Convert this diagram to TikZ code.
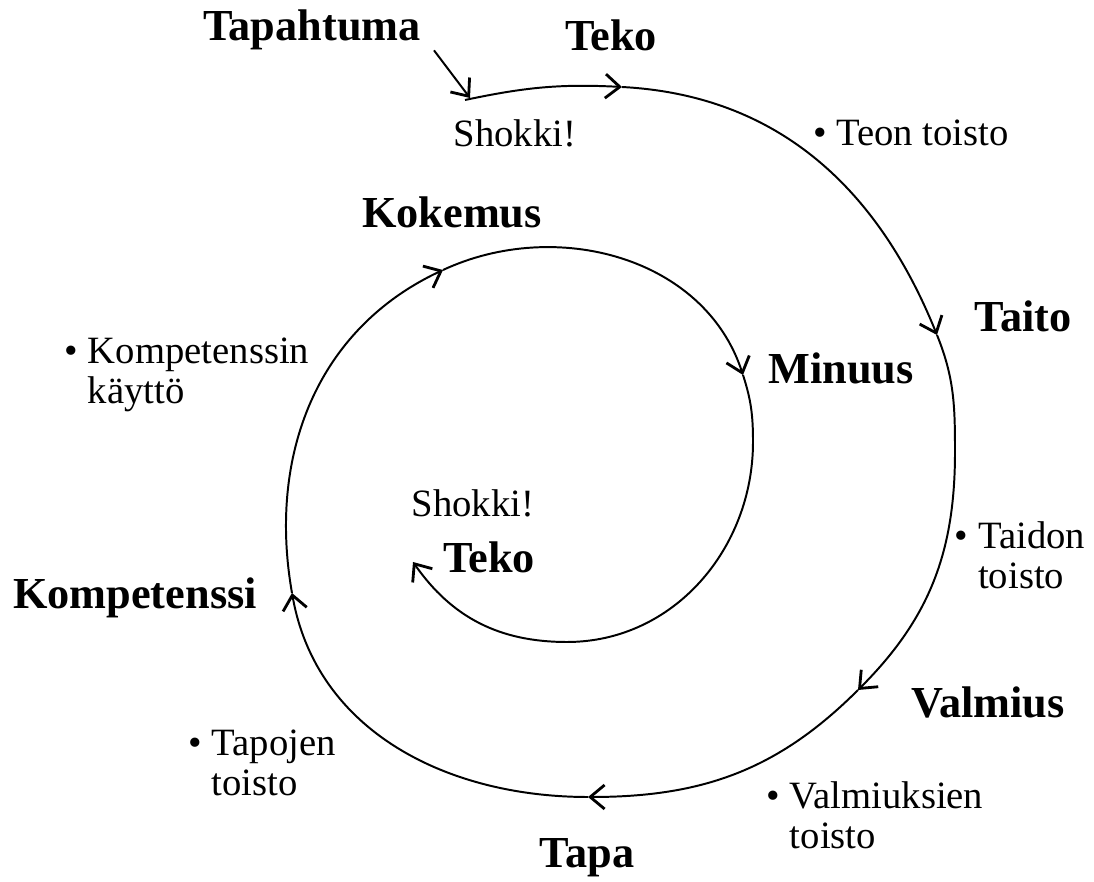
\documentclass[tikz,border=0pt]{standalone}
\usepackage{fontspec}
\setmainfont{Liberation Serif}
\usetikzlibrary{arrows.meta}
\begin{document}
\begin{tikzpicture}[
        x=0.025cm, y=0.025cm,
        spiral/.style={line width=1.4pt},
        barb/.style={-{Straight Barb[length=3.6mm,width=6mm,line width=2pt]}},
        lab/.style={font=\fontsize{31.5}{34}\selectfont\bfseries, inner sep=0pt},
        note/.style={font=\fontsize{27.5}{28.5}\selectfont, inner sep=0pt, align=left}
    ]
    \useasboundingbox (0,0) rectangle (1094,882);

    % points on the spiral
    \coordinate (s0) at (465,782);
    \coordinate (a1) at (622,795);
    \coordinate (a2) at (937,547);
    \coordinate (r1) at (955,430);
    \coordinate (a3) at (858,192);
    \coordinate (a4) at (588,85);
    \coordinate (a5) at (292,289);
    \coordinate (a6) at (443,612);
    \coordinate (a7) at (743,507);
    \coordinate (r2) at (753,440);
    \coordinate (b1) at (567,240);
    \coordinate (a8) at (413,320);

    % labels
    \node[lab] (tapahtuma) at (312,852) {Tapahtuma};
    \node[lab] (teko1) at (611,847) {Teko};
    \node[note] (shokki1) at (515,749) {Shokki!};
    \node[note] (teon) at (911,749) {• Teon toisto};
    \node[lab] (kokemus) at (452,670) {Kokemus};
    \node[lab] (taito) at (1023,566) {Taito};
    \node[note] (kaytto) at (187,507) {• Kompetenssin\\\phantom{• }käyttö};
    \node[lab] (minuus) at (841,514) {Minuus};
    \node[note] (shokki2) at (473,379) {Shokki!};
    \node[lab] (teko2) at (489,325) {Teko};
    \node[note] (taidon) at (1020,327) {• Taidon\\\phantom{• }toisto};
    \node[lab] (kompetenssi) at (135,284) {Kompetenssi};
    \node[lab] (valmius) at (988,180) {Valmius};
    \node[note] (tapojen) at (262,119) {• Tapojen\\\phantom{• }toisto};
    \node[note] (valmiuksien) at (875,67) {• Valmiuksien\\\phantom{• }toisto};
    \node[lab] (tapa) at (587,24) {Tapa};

    % the spiral
    \coordinate (hit) at (470,784);
    \draw[spiral, barb] ([shift={(13,0)}]tapahtuma.south east) -- (hit);
    \draw[spiral, barb] (s0) to[out=12, in=177] (a1);
    \draw[spiral, barb] (a1) to[out=-3, in=112] (a2);
    \draw[spiral, barb] (a2) to[out=-68, in=90] (r1) to[out=-90, in=45] (a3);
    \draw[spiral, barb] (a3) to[out=-135, in=0] (a4);
    \draw[spiral, barb] (a4) to[out=180, in=-80] (a5);
    \draw[spiral, barb] (a5) to[out=100, in=205] (a6);
    \draw[spiral, barb] (a6) to[out=25, in=108] (a7);
    \draw[spiral, barb] (a7) to[out=-72, in=90] (r2) to[out=-90, in=0] (b1)
        to[out=180, in=-55] (a8);
\end{tikzpicture}
\end{document}
